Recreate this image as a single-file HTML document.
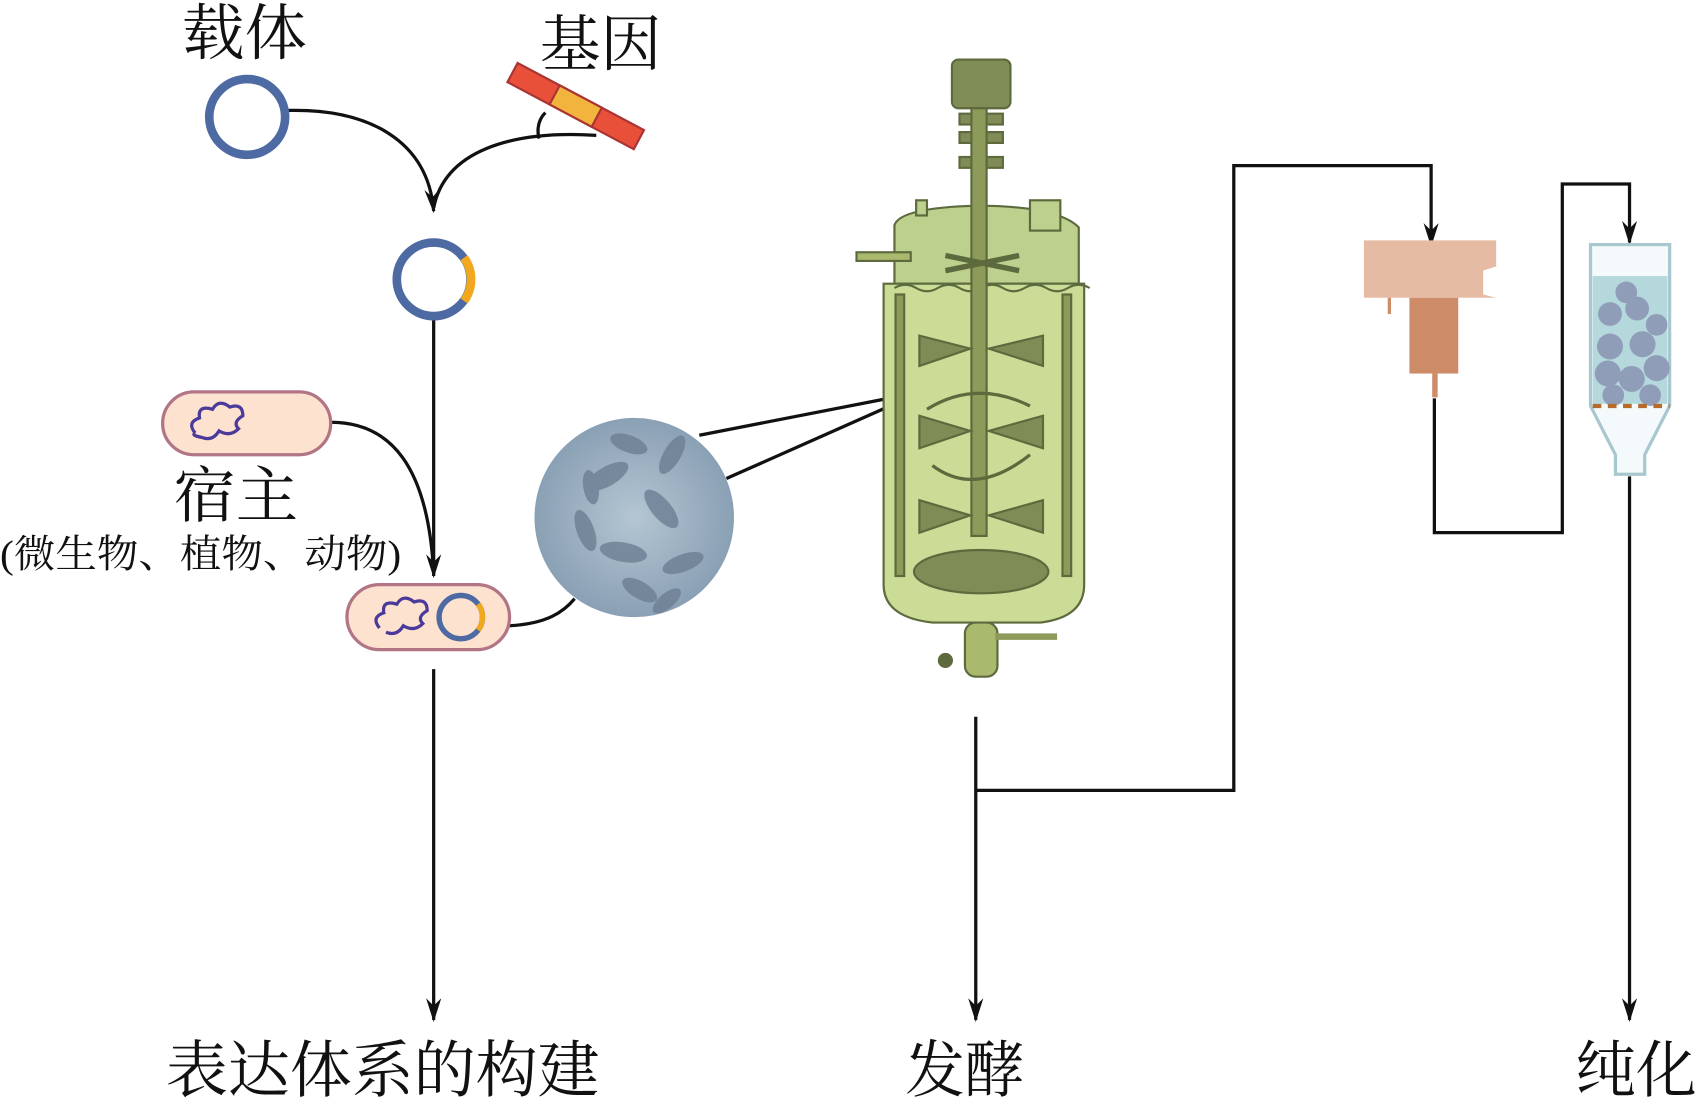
<!DOCTYPE html>
<html><head><meta charset="utf-8"><style>
html,body{margin:0;padding:0;background:#fff}
svg{display:block}
text{font-family:"Liberation Serif","Noto Serif CJK SC","Noto Sans CJK SC",serif;fill:#111}
</style></head><body>
<svg width="1700" height="1100" viewBox="0 0 1568 1016" preserveAspectRatio="none" xmlns="http://www.w3.org/2000/svg">
<defs>
<marker id="ar" markerWidth="22" markerHeight="14" refX="20" refY="7" orient="auto" markerUnits="userSpaceOnUse" viewBox="0 0 22 14">
<path d="M0,0 L22,7 L0,14 L7,7 Z" fill="#111"/></marker>
<radialGradient id="mg" cx="50%" cy="50%" r="50%"><stop offset="0" stop-color="#b4c6d3"/><stop offset="1" stop-color="#8aa0b4"/></radialGradient>
</defs>
<g stroke="#111" stroke-width="3" fill="none">
<path d="M265,102 C340,100 395,130 400,195" marker-end="url(#ar)"/>
<path d="M550,125 C470,120 410,140 400,192"/>
<path d="M497,128 C495,118 497,110 503,104"/>
<path d="M400,293 L400,532" marker-end="url(#ar)"/>
<path d="M305,390 C360,390 395,430 400,530"/>
<path d="M400,618 L400,942" marker-end="url(#ar)"/>
<path d="M470,578 C505,576 520,565 530,553"/>
<path d="M645,402 L850,362 L670,442"/>
<path d="M900,662 L900,942" marker-end="url(#ar)"/>
<path d="M900,730 L1138,730 L1138,153 L1320,153 L1320,226" marker-end="url(#ar)"/>
<path d="M1323,368 L1323,492 L1441,492 L1441,170 L1503,170 L1503,224" marker-end="url(#ar)"/>
<path d="M1503,440 L1503,942" marker-end="url(#ar)"/>
</g>
<circle cx="228" cy="108" r="35" fill="none" stroke="#4e6aa3" stroke-width="8"/>
<g transform="translate(531,98) rotate(28)">
<rect x="-66" y="-10" width="132" height="20" fill="#e8503a" stroke="#a33" stroke-width="2"/>
<rect x="-22" y="-10" width="44" height="20" fill="#f2b43c" stroke="#a33" stroke-width="2"/>
</g>
<circle cx="400" cy="258" r="34" fill="none" stroke="#4e6aa3" stroke-width="8"/>
<path d="M428,238 A34,34 0 0 1 428,278" fill="none" stroke="#f2a81e" stroke-width="8"/>
<rect x="150" y="362" width="155" height="58" rx="29" fill="#fde2d0" stroke="#b27585" stroke-width="3"/>
<path d="M180,400 q-8,-10 4,-14 q-2,-12 12,-8 q6,-10 16,-2 q12,-4 12,8 q-10,6 -4,12 q-8,8 -18,2 q-6,10 -16,6 q-10,-2 -6,-4" fill="none" stroke="#4a3a9a" stroke-width="3"/>
<rect x="320" y="540" width="150" height="60" rx="30" fill="#fde2d0" stroke="#b27585" stroke-width="3"/>
<path d="M350,580 q-8,-10 4,-14 q-2,-12 12,-8 q6,-10 16,-2 q12,-4 12,8 q-10,6 -4,12 q-8,8 -18,2 q-6,10 -16,6" fill="none" stroke="#4a3a9a" stroke-width="3"/>
<circle cx="425" cy="570" r="20" fill="none" stroke="#4e6aa3" stroke-width="5"/>
<path d="M441,558 A20,20 0 0 1 441,582" fill="none" stroke="#f2a81e" stroke-width="5"/>
<circle cx="585" cy="478" r="92" fill="url(#mg)"/>
<g fill="#6d7f93" opacity="0.8">
<ellipse cx="560" cy="440" rx="22" ry="9" transform="rotate(-30 560 440)"/>
<ellipse cx="610" cy="470" rx="22" ry="9" transform="rotate(50 610 470)"/>
<ellipse cx="575" cy="510" rx="22" ry="9" transform="rotate(10 575 510)"/>
<ellipse cx="620" cy="420" rx="20" ry="8" transform="rotate(-60 620 420)"/>
<ellipse cx="540" cy="490" rx="20" ry="8" transform="rotate(70 540 490)"/>
<ellipse cx="630" cy="520" rx="20" ry="8" transform="rotate(-20 630 520)"/>
<ellipse cx="590" cy="545" rx="18" ry="8" transform="rotate(30 590 545)"/>
<ellipse cx="580" cy="410" rx="18" ry="8" transform="rotate(20 580 410)"/>
<ellipse cx="545" cy="450" rx="16" ry="7" transform="rotate(80 545 450)"/>
<ellipse cx="615" cy="555" rx="16" ry="7" transform="rotate(-40 615 555)"/>
</g>
<g stroke="#5d6a3e" stroke-width="2">
<rect x="878" y="55" width="54" height="45" rx="6" fill="#7f8c56"/>
<rect x="885" y="105" width="40" height="10" fill="#7f8c56"/>
<rect x="885" y="122" width="40" height="10" fill="#7f8c56"/>
<rect x="885" y="145" width="40" height="10" fill="#7f8c56"/>
<path d="M825,208 Q830,192 900,190 Q975,190 995,210 L995,262 L825,262 Z" fill="#bdd08e"/>
<rect x="845" y="185" width="10" height="14" fill="#bdd08e"/>
<rect x="950" y="185" width="28" height="28" fill="#bdd08e"/>
<rect x="790" y="233" width="50" height="8" fill="#a9ba6e"/>
<path d="M815,262 L1000,262 L1000,540 Q1000,570 960,575 L860,575 Q815,570 815,540 Z" fill="#cadc96"/>
<rect x="826" y="272" width="8" height="260" fill="#8c9a5a"/>
<rect x="980" y="272" width="8" height="260" fill="#8c9a5a"/>
<path d="M825,266 q10,-6 20,0 t20,0 t20,0 t20,0 t20,0 t20,0 t20,0 t20,0 t20,0" fill="none"/>
<rect x="896" y="100" width="14" height="395" fill="#8c9a5a"/>
<path d="M848,310 L895,322 L848,338 Z M962,310 L912,322 L962,338 Z M848,384 L895,398 L848,414 Z M962,384 L912,398 L962,414 Z M848,462 L895,476 L848,492 Z M962,462 L912,476 L962,492 Z" fill="#7f8c56"/>
<path d="M872,236 L940,250 M872,250 L940,236" stroke-width="5"/>
<ellipse cx="905" cy="528" rx="62" ry="20" fill="#7f8c56"/>
<path d="M855,378 Q900,350 950,375 M950,420 Q900,460 860,430" fill="none" stroke-width="3"/>
<rect x="890" y="575" width="30" height="50" rx="10" fill="#a9ba6e"/>
<path d="M918,588 L975,588" stroke-width="6" stroke="#8c9a5a"/>
<circle cx="872" cy="610" r="6" fill="#5d6a3e"/>
</g>
<path d="M1258,222 L1380,222 L1380,246 L1368,250 L1368,272 L1380,275 L1258,275 Z" fill="#e6bba3"/>
<rect x="1300" y="275" width="45" height="70" fill="#cd8b67"/>
<rect x="1321" y="345" width="5" height="22" fill="#cd8b67"/>
<rect x="1280" y="275" width="3" height="15" fill="#cd8b67"/>
<path d="M1467,226 L1540,226 L1540,375 L1517,420 L1517,438 L1490,438 L1490,420 L1467,375 Z" fill="#f4fafb" stroke="#a9c7cf" stroke-width="3"/>
<rect x="1469" y="255" width="69" height="118" fill="#b4d8dc"/>
<g fill="#8a93b4" opacity="0.85">
<circle cx="1485" cy="290" r="11"/><circle cx="1510" cy="285" r="11"/><circle cx="1528" cy="300" r="10"/>
<circle cx="1485" cy="320" r="12"/><circle cx="1515" cy="318" r="12"/><circle cx="1528" cy="340" r="12"/>
<circle cx="1483" cy="345" r="12"/><circle cx="1505" cy="350" r="12"/><circle cx="1488" cy="365" r="10"/>
<circle cx="1522" cy="365" r="10"/><circle cx="1500" cy="270" r="10"/>
</g>
<path d="M1469,375 L1540,375" stroke="#b86a2a" stroke-width="4" stroke-dasharray="8,6"/>
<text x="168" y="50" font-size="56" textLength="115" lengthAdjust="spacingAndGlyphs">载体</text>
<text x="498" y="60" font-size="56" textLength="112" lengthAdjust="spacingAndGlyphs">基因</text>
<text x="160" y="477" font-size="56" textLength="115" lengthAdjust="spacingAndGlyphs">宿主</text>
<text x="0" y="524" font-size="36" textLength="370" lengthAdjust="spacingAndGlyphs">(微生物、植物、动物)</text>
<text x="153" y="1008" font-size="57" textLength="400" lengthAdjust="spacingAndGlyphs">表达体系的构建</text>
<text x="835" y="1008" font-size="57" textLength="110" lengthAdjust="spacingAndGlyphs">发酵</text>
<text x="1453" y="1008" font-size="57" textLength="112" lengthAdjust="spacingAndGlyphs">纯化</text>
</svg>
</body></html>
